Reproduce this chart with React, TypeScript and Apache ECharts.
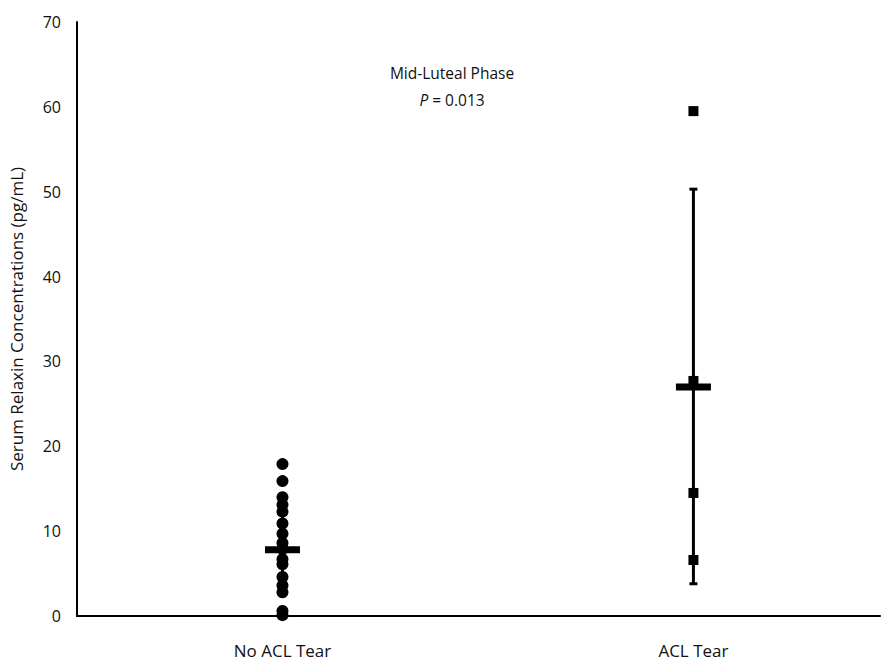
import React, { useEffect, useRef } from "react";
import * as echarts from "echarts";

const categories = ["No ACL Tear", "ACL Tear"];
const noTearValues = [17.9, 15.9, 14.0, 13.1, 12.3, 10.9, 9.7, 8.6, 7.9, 6.7, 6.1, 4.6, 3.6, 2.8, 0.6, 0.1];
const tearValues = [59.5, 27.7, 14.5, 6.6];
const means = [7.8, 27.0];
const errLow = [2.7, 3.8];
const errHigh = [12.9, 50.3];
const yTicks = [0, 10, 20, 30, 40, 50, 60, 70];

const FONT = "'Open Sans', 'Noto Sans', sans-serif";

export default function App() {
  const ref = useRef<HTMLDivElement>(null);
  useEffect(() => {
    if (!ref.current) return;
    const chart = echarts.init(ref.current, null, { renderer: "svg" });
    const errData = categories.map((_, i) => [i, errLow[i], errHigh[i]]);
    chart.setOption({
      animation: false,
      backgroundColor: "#ffffff",
      grid: { left: 73, right: 5, top: 22, bottom: 49 },
      xAxis: {
        type: "value",
        min: -0.5,
        max: 1.454,
        axisLine: { show: true, onZero: false, lineStyle: { color: "#000", width: 2 } },
        axisTick: { show: false },
        splitLine: { show: false },
        axisLabel: {
          customValues: [0, 1],
          formatter: (v: number) => categories[Math.round(v)] ?? "",
          color: "#111",
          fontSize: 17,
          fontFamily: FONT,
          margin: 26,
        },
      },
      yAxis: {
        type: "value",
        min: yTicks[0],
        max: yTicks[yTicks.length - 1],
        interval: 10,
        axisLine: { show: true, onZero: false, lineStyle: { color: "#000", width: 2 } },
        axisTick: { show: false },
        splitLine: { show: false },
        axisLabel: { color: "#111", fontSize: 16, fontFamily: FONT, margin: 16 },
        name: "Serum Relaxin Concentrations (pg/mL)",
        nameLocation: "middle",
        nameGap: 52,
        nameTextStyle: { color: "#111", fontSize: 17, fontFamily: FONT },
      },
      graphic: [
        {
          type: "text",
          x: 452,
          y: 73,
          style: {
            text: "Mid-Luteal Phase",
            fill: "#111",
            font: `15.5px ${FONT}`,
            align: "center",
            verticalAlign: "middle",
          },
        },
        {
          type: "text",
          x: 452,
          y: 100,
          style: {
            text: "{i|P} = 0.013",
            fill: "#111",
            font: `15.5px ${FONT}`,
            align: "center",
            verticalAlign: "middle",
            rich: { i: { fontStyle: "italic", fontSize: 15.5, fontFamily: FONT, fill: "#111" } },
          },
        },
      ],
      series: [
        {
          type: "custom",
          z: 1,
          renderItem: (params: any, api: any) => {
            const x = api.value(0);
            const lo = api.coord([x, api.value(1)]);
            const hi = api.coord([x, api.value(2)]);
            const capW = 4;
            const st = { stroke: "#000", lineWidth: 3 };
            return {
              type: "group",
              children: [
                { type: "line", shape: { x1: lo[0], y1: lo[1], x2: hi[0], y2: hi[1] }, style: st },
                { type: "line", shape: { x1: lo[0] - capW, y1: lo[1], x2: lo[0] + capW, y2: lo[1] }, style: st },
                { type: "line", shape: { x1: hi[0] - capW, y1: hi[1], x2: hi[0] + capW, y2: hi[1] }, style: st },
              ],
            };
          },
          data: errData,
        },
        {
          type: "scatter",
          z: 3,
          symbol: "circle",
          symbolSize: 12,
          itemStyle: { color: "#000", opacity: 1 },
          data: noTearValues.map((v) => [0, v]),
        },
        {
          type: "scatter",
          z: 3,
          symbol: "rect",
          symbolSize: 10,
          itemStyle: { color: "#000", opacity: 1 },
          data: tearValues.map((v) => [1, v]),
        },
        {
          type: "scatter",
          z: 4,
          symbol: "rect",
          symbolSize: [35, 7],
          itemStyle: { color: "#000", opacity: 1 },
          data: means.map((v, i) => [i, v]),
        },
      ],
    });
    return () => chart.dispose();
  }, []);
  return (
    <div
      ref={ref}
      style={{ position: "fixed", left: 0, top: 0, width: 885, height: 665, background: "#fff" }}
    />
  );
}
